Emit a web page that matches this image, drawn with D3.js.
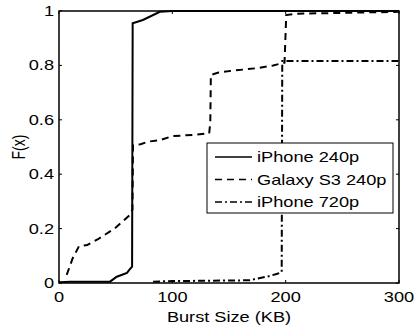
<!DOCTYPE html>
<html>
<head>
<meta charset="utf-8">
<script src="https://cdn.jsdelivr.net/npm/d3@7"></script>
<style>
body { margin: 0; background: white; }
svg text { font-family: "Liberation Sans", Arial, sans-serif; }
</style>
</head>
<body>
<script>
var width = 417
var height = 328
var left = 59, right = 399, top_y = 11, bottom = 283
var stretch = 1.3

var x_ticks = [0, 100, 200, 300]
var y_ticks = [0, 0.2, 0.4, 0.6, 0.8, 1]
var series_names = ["iPhone 240p", "Galaxy S3 240p", "iPhone 720p"]

// burst size (KB) and F(x)
var iphone240_x = [0, 10, 45, 51, 60, 62, 64.5, 65, 74, 89, 100, 300]
var iphone240_y = [0.003, 0.005, 0.005, 0.023, 0.037, 0.048, 0.06, 0.955, 0.967, 0.997, 1.0, 1.0]

var galaxy240_x = [6.8, 12, 17.6, 25, 34, 49, 62.6, 64.8, 65.3, 72, 79, 89, 100, 120, 132.5, 133.5, 134, 140, 152, 175, 189, 199, 200.5, 210, 300]
var galaxy240_y = [0.03, 0.09, 0.135, 0.14, 0.16, 0.2, 0.25, 0.27, 0.507, 0.51, 0.52, 0.525, 0.54, 0.545, 0.55, 0.59, 0.765, 0.773, 0.78, 0.79, 0.80, 0.81, 0.985, 0.99, 0.997]

var iphone720_x = [83, 100, 168, 185, 192, 196.5, 197, 300]
var iphone720_y = [0.005, 0.007, 0.01, 0.025, 0.033, 0.04, 0.816, 0.816]

var dashes = [null, "7,5", "7,3,2,3"]

var x = d3.scaleLinear()
.domain([0, 300])
.range([left, right])

var y = d3.scaleLinear()
.domain([0, 1])
.range([bottom, top_y])

var svg = d3.select("body").append("svg")
.attr("width", width)
.attr("height", height)

function zip(xs, ys) {
    return xs.map(function(d, i) { return [d, ys[i]] })
}

var all_series = [zip(iphone240_x, iphone240_y), zip(galaxy240_x, galaxy240_y), zip(iphone720_x, iphone720_y)]

var line = d3.line()
.x(function(d) { return x(d[0]) })
.y(function(d) { return y(d[1]) })

svg.append("g")
.selectAll("path")
.data(all_series)
.enter().append("path")
.attr("d", line)
.attr("fill", "none")
.attr("stroke", "black")
.attr("stroke-width", 2)
.attr("stroke-dasharray", function(d, i) { return dashes[i] })

// axes box with inside ticks
svg.append("rect")
.attr("x", left).attr("y", top_y)
.attr("width", right - left).attr("height", bottom - top_y)
.attr("fill", "none").attr("stroke", "black").attr("stroke-width", 1.5)

var tick_len = 3

svg.append("g").selectAll("line")
.data(x_ticks).enter().append("line")
.attr("x1", function(d) { return x(d) }).attr("x2", function(d) { return x(d) })
.attr("y1", bottom).attr("y2", bottom - tick_len)
.attr("stroke", "black")

svg.append("g").selectAll("line")
.data(x_ticks).enter().append("line")
.attr("x1", function(d) { return x(d) }).attr("x2", function(d) { return x(d) })
.attr("y1", top_y).attr("y2", top_y + tick_len)
.attr("stroke", "black")

svg.append("g").selectAll("line")
.data(y_ticks).enter().append("line")
.attr("x1", left).attr("x2", left + tick_len)
.attr("y1", function(d) { return y(d) }).attr("y2", function(d) { return y(d) })
.attr("stroke", "black")

svg.append("g").selectAll("line")
.data(y_ticks).enter().append("line")
.attr("x1", right).attr("x2", right - tick_len)
.attr("y1", function(d) { return y(d) }).attr("y2", function(d) { return y(d) })
.attr("stroke", "black")

// tick labels (figure text is horizontally stretched)
svg.append("g").selectAll("text")
.data(x_ticks).enter().append("text")
.attr("transform", function(d) { return "translate(" + x(d) + "," + (bottom + 19) + ") scale(" + stretch + ",1)" })
.attr("text-anchor", "middle")
.style("font-size", "14px")
.text(function(d) { return d })

svg.append("g").selectAll("text")
.data(y_ticks).enter().append("text")
.attr("transform", function(d) { return "translate(" + (left - 5) + "," + (y(d) + 5) + ") scale(" + stretch + ",1)" })
.attr("text-anchor", "end")
.style("font-size", "14px")
.text(function(d) { return d })

svg.append("text")
.attr("transform", "translate(" + ((left + right) / 2) + "," + 322 + ") scale(" + stretch + ",1)")
.attr("text-anchor", "middle")
.style("font-size", "14px")
.text("Burst Size (KB)")

svg.append("text")
.attr("transform", "translate(" + 25 + "," + ((top_y + bottom) / 2) + ") rotate(-90) scale(1," + stretch + ")")
.attr("text-anchor", "middle")
.style("font-size", "14px")
.text("F(x)")

// legend
var legend = svg.append("g")

legend.append("rect")
.attr("x", 207).attr("y", 143)
.attr("width", 186).attr("height", 70)
.attr("fill", "white").attr("stroke", "black").attr("stroke-width", 1)

var rows = legend.selectAll("g.row")
.data(series_names).enter().append("g")
.attr("class", "row")
.attr("transform", function(d, i) { return "translate(0," + (157 + i * 22.5) + ")" })

rows.append("line")
.attr("x1", 215).attr("x2", 252)
.attr("y1", 0).attr("y2", 0)
.attr("stroke", "black").attr("stroke-width", 1.3)
.attr("stroke-dasharray", function(d, i) { return dashes[i] })

rows.append("text")
.attr("transform", "translate(257,5) scale(" + stretch + ",1)")
.style("font-size", "14px")
.text(function(d) { return d })
</script>
</body>
</html>
